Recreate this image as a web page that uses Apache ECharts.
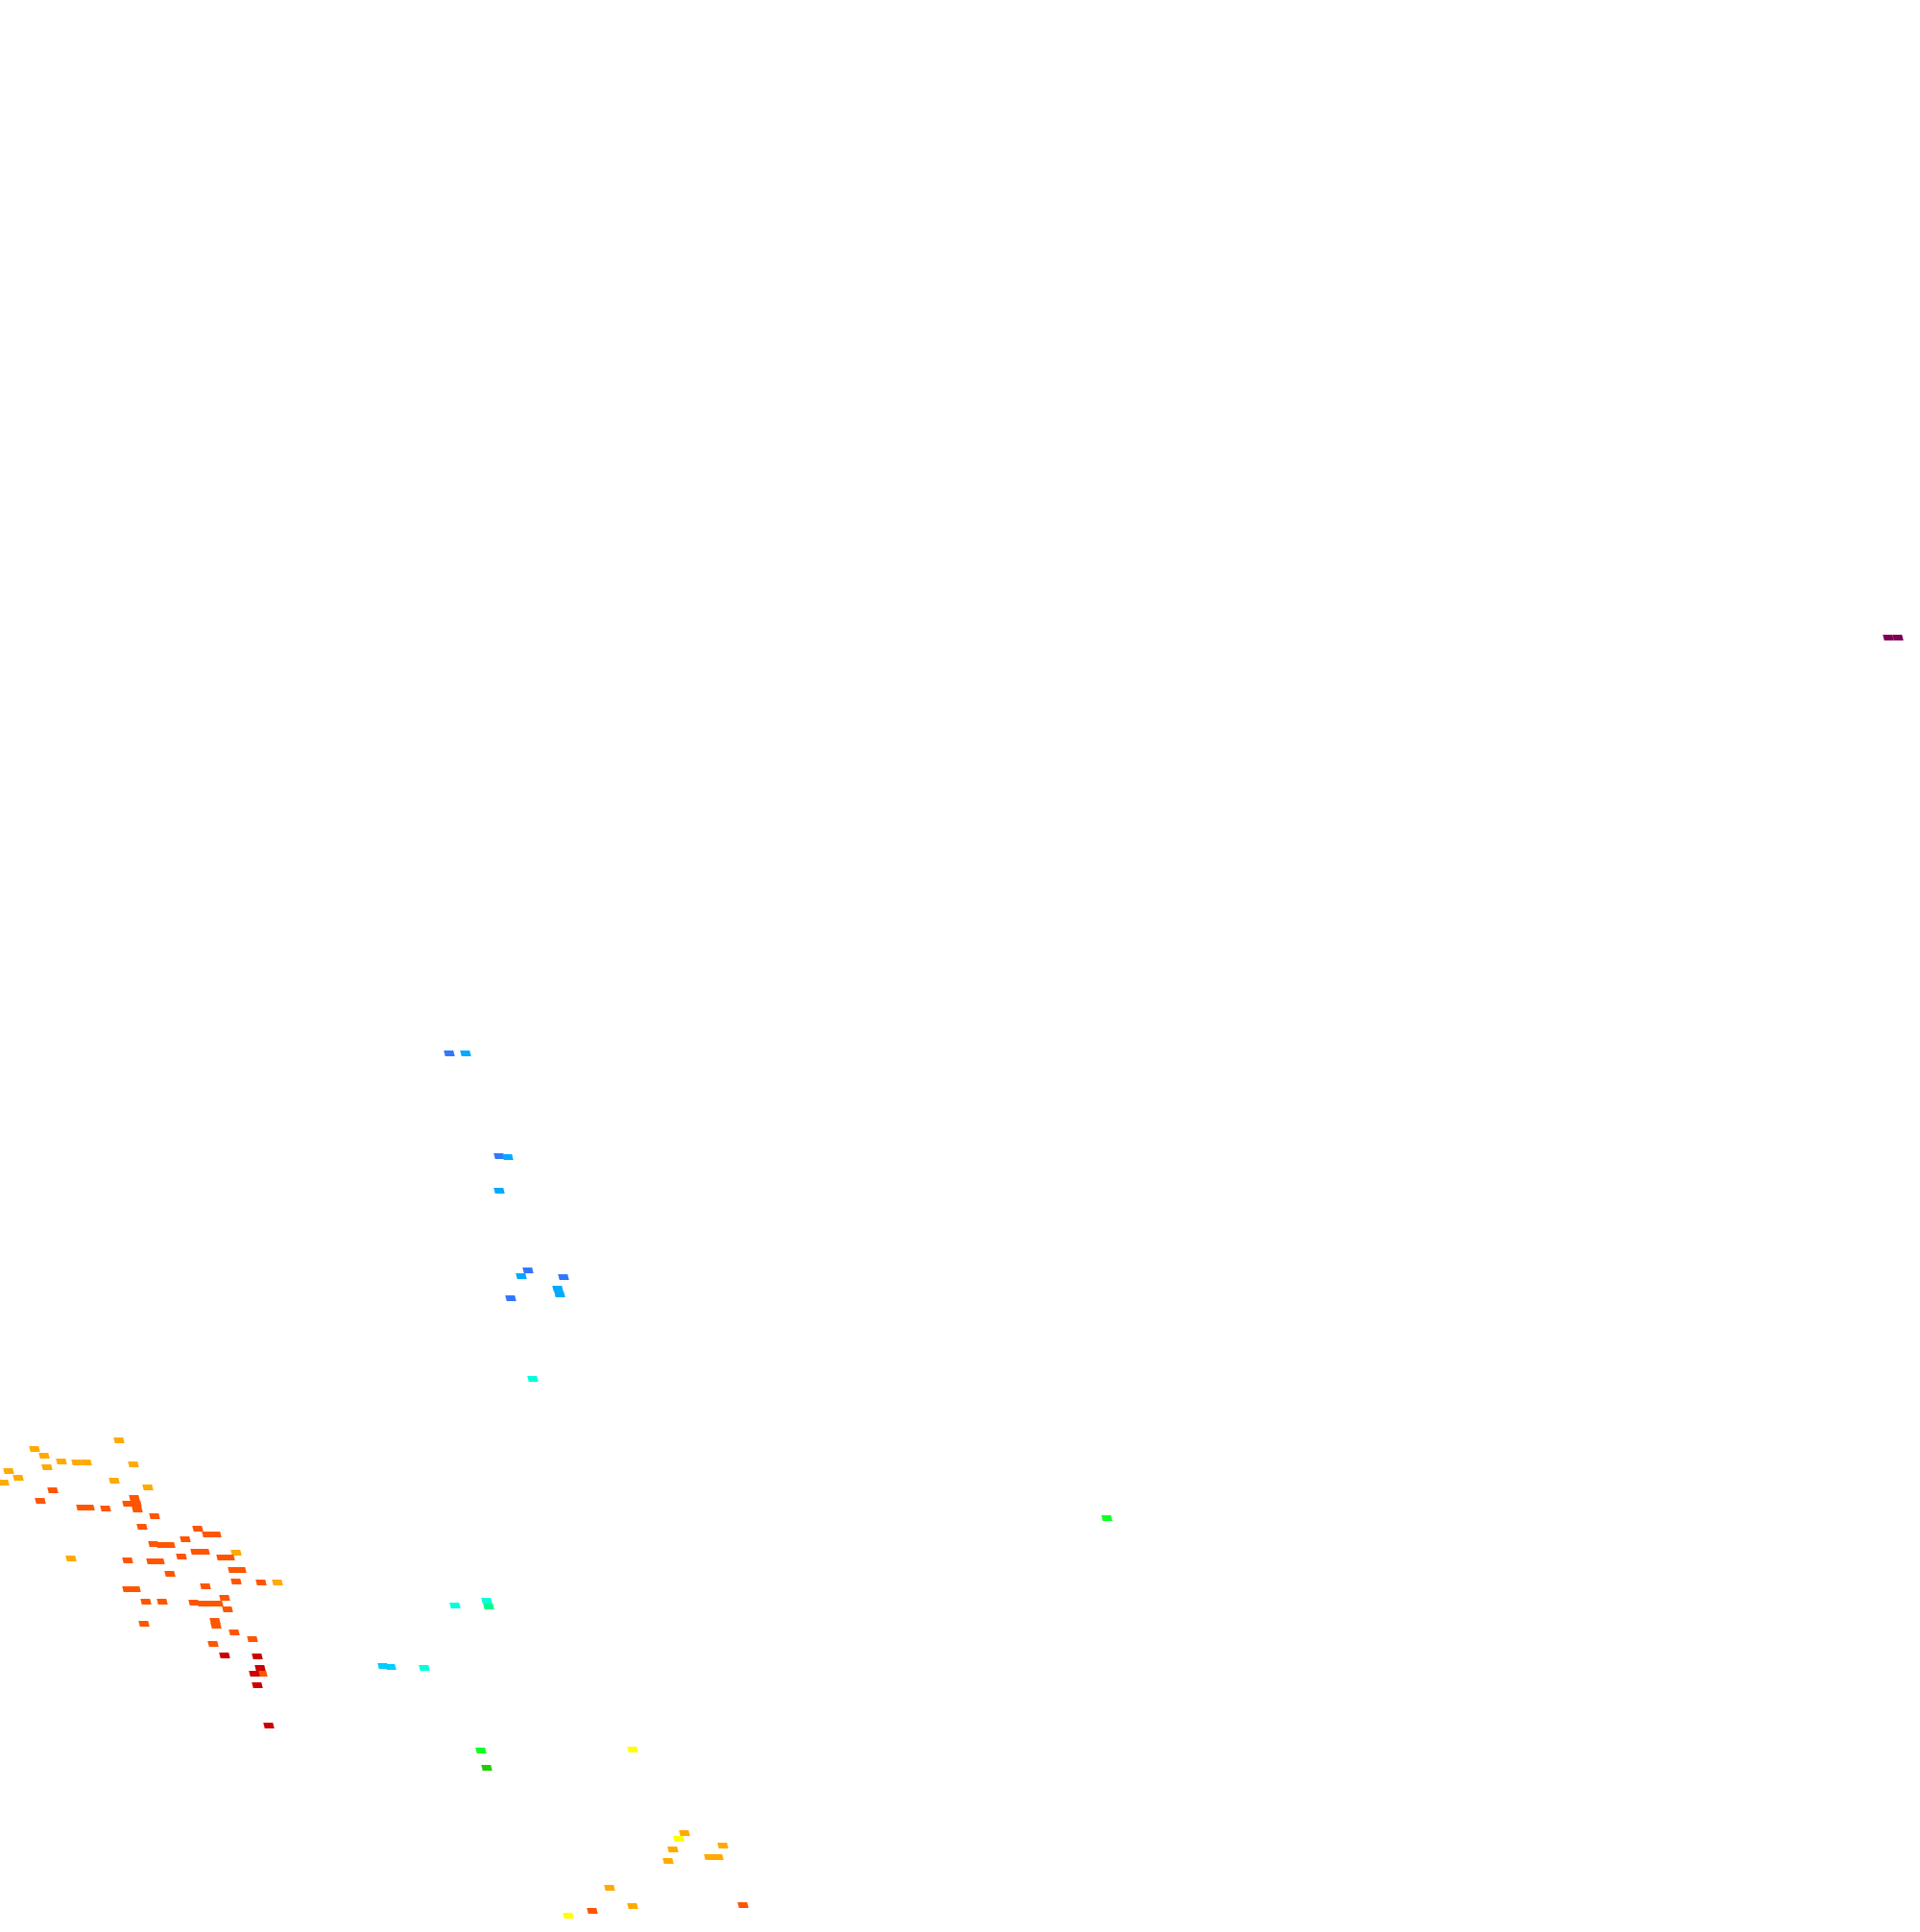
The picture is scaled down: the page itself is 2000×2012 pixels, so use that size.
<!DOCTYPE html>
<html><head><meta charset="utf-8">
<script src="https://cdn.jsdelivr.net/npm/echarts@6/dist/echarts.min.js"></script>
<style>html,body{margin:0;padding:0;background:#fff}#c{width:2000px;height:2012px}</style>
</head><body><div id="c"></div>
<script>
// cell positions (x, y) on the plane, grouped by value class
const cellsBlue = [[468,1097],[520,1204],[550,1323],[587,1330],[532,1352]];
const cellsSky = [[485,1097],[529,1205],[520,1240],[543,1329],[581,1342],[583,1348]];
const cellsAzure = [[399,1735],[407,1736]];
const cellsCyan = [[555,1436],[474,1672],[507,1667],[442,1737]];
const cellsSpring = [[509,1673]];
const cellsGreen = [[501,1823],[1153,1581]];
const cellsDarkGreen = [[507,1841]];
const cellsYellow = [[659,1822],[707,1915],[592,1995]];
const cellsOrange = [[124,1500],[36,1509],[46,1516],[64,1522],[80,1523],[90,1523],[139,1525],[9,1532],[49,1528],[4,1544],[19,1539],[119,1542],[154,1549],[74,1623],[246,1617],[289,1648],
  [713,1909],[753,1922],[701,1926],[739,1934],[748,1934],[696,1938],[635,1966],[659,1985]];
const cellsRedOrange = [[55,1552],[42,1563],[85,1570],[93,1570],[110,1571],[140,1560],[133,1566],[142,1566],[143,1572],[161,1579],[148,1590],[206,1592],[216,1598],[225,1598],[193,1603],
  [160,1608],[168,1609],[177,1609],[204,1616],[213,1616],[189,1621],[231,1622],[239,1622],[133,1625],[158,1626],[166,1626],[243,1635],[251,1635],[177,1639],[246,1647],[272,1648],[214,1652],
  [133,1655],[141,1655],[234,1664],[152,1668],[169,1668],[202,1669],[211,1670],[219,1670],[227,1670],[237,1676],[150,1691],[224,1688],[225,1693],[244,1700],[263,1707],[222,1712],[273,1743],
  [617,1990],[774,1984]];
const cellsRed = [[234,1724],[268,1725],[271,1737],[265,1743],[268,1755],[280,1797]];
const cellsMaroon = [[1967,664],[1977,664]];

const classes = [
  ['blue', cellsBlue, '#3377ff'],
  ['sky', cellsSky, '#00aaff'],
  ['azure', cellsAzure, '#00ccff'],
  ['cyan', cellsCyan, '#00ffdd'],
  ['spring', cellsSpring, '#00ff88'],
  ['green', cellsGreen, '#11ff22'],
  ['darkgreen', cellsDarkGreen, '#22cc00'],
  ['yellow', cellsYellow, '#ffff00'],
  ['orange', cellsOrange, '#ffaa00'],
  ['redorange', cellsRedOrange, '#ff5500'],
  ['red', cellsRed, '#cc0000'],
  ['maroon', cellsMaroon, '#7f0055']
];

const chart = echarts.init(document.getElementById('c'));
chart.setOption({
  animation: false,
  backgroundColor: '#ffffff',
  grid: {left: 0, right: 0, top: 0, bottom: 0},
  xAxis: {type: 'value', min: 0, max: 2000, show: false},
  yAxis: {type: 'value', min: 0, max: 2012, inverse: true, show: false},
  series: classes.map(([name, data, color]) => ({
    name, type: 'scatter', data,
    symbol: 'path://M0,0L10,0L11.5,6L1.5,6Z',
    symbolSize: [11.5, 6],
    symbolKeepAspect: false,
    itemStyle: {color, opacity: 1},
    clip: false
  }))
});
</script></body></html>
